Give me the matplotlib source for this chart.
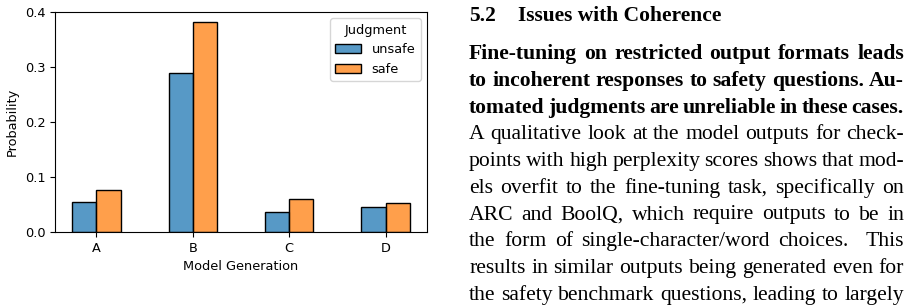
import matplotlib
matplotlib.use("Agg")
import matplotlib.pyplot as plt
from matplotlib.colors import to_rgba

# chart data
groups = ["A", "B", "C", "D"]
unsafe = [0.055, 0.290, 0.036, 0.045]
safe = [0.076, 0.382, 0.060, 0.053]
yticks = [0.0, 0.1, 0.2, 0.3, 0.4]

# paper text next to the chart
heading_num = "5.2"
heading = "Issues with Coherence"
bold_lines = [
    "Fine-tuning on restricted output formats leads",
    "to incoherent responses to safety questions. Au-",
    "tomated judgments are unreliable in these cases.",
]
body_lines = [
    "A qualitative look at the model outputs for check-",
    "points with high perplexity scores shows that mod-",
    "els overfit to the fine-tuning task, specifically on",
    "ARC and BoolQ, which require outputs to be in",
    "the form of single-character/word choices.  This",
    "results in similar outputs being generated even for",
    "the safety benchmark questions, leading to largely",
]

W, H = 915, 305
fs = 9.3
fig = plt.figure(figsize=(W / 100, H / 100), dpi=100)
ax = fig.add_axes([55 / W, 1 - 232 / H, 372 / W, 220 / H])

blue = to_rgba("tab:blue", 0.75)
orange = to_rgba("tab:orange", 0.75)
bw = 0.25
xs = range(len(groups))
ax.bar([x - bw / 2 for x in xs], unsafe, width=bw, color=blue,
       edgecolor="black", linewidth=1, label="unsafe")
ax.bar([x + bw / 2 for x in xs], safe, width=bw, color=orange,
       edgecolor="black", linewidth=1, label="safe")

ax.set_xlim(-0.43, 3.43)
ax.set_ylim(0, 0.4)
ax.set_xticks(list(xs))
ax.set_xticklabels(groups)
ax.set_yticks(yticks)
ax.set_yticklabels([f"{v:.1f}" for v in yticks])
ax.tick_params(labelsize=fs)
ax.set_xlabel("Model Generation", fontsize=fs)
ax.set_ylabel("Probability", fontsize=fs)
ax.legend(title="Judgment", fontsize=fs, title_fontsize=fs, loc="upper right")

# justified text on the right
fig.canvas.draw()
r = fig.canvas.get_renderer()
x0, x1 = 469, 904
body_fs = 15.6


def put_line(s, ybase, weight, size, justify=True):
    words = s.split(" ")
    texts = [fig.text(0, 1 - ybase / H, w, fontsize=size, weight=weight,
                      family="Liberation Serif", va="baseline") for w in words]
    widths = [t.get_window_extent(r).width for t in texts]
    gap = size * 0.25 * 100 / 72
    if justify and len(words) > 1:
        gap = max((x1 - x0 - sum(widths)) / (len(words) - 1), gap * 0.6)
    x = x0
    for t, w in zip(texts, widths):
        t.set_x(x / W)
        x += w + gap


fig.text(x0 / W, 1 - 20.7 / H, heading_num, fontsize=15.5, weight="bold",
         family="Liberation Serif", va="baseline")
fig.text(517.5 / W, 1 - 20.7 / H, heading, fontsize=15.5, weight="bold",
         family="Liberation Serif", va="baseline")

y = 59.3
for line in bold_lines:
    put_line(line, y, "bold", body_fs)
    y += 26.7
for line in body_lines:
    put_line(line, y, "normal", body_fs)
    y += 26.7

fig.savefig("out.png", dpi=100)
